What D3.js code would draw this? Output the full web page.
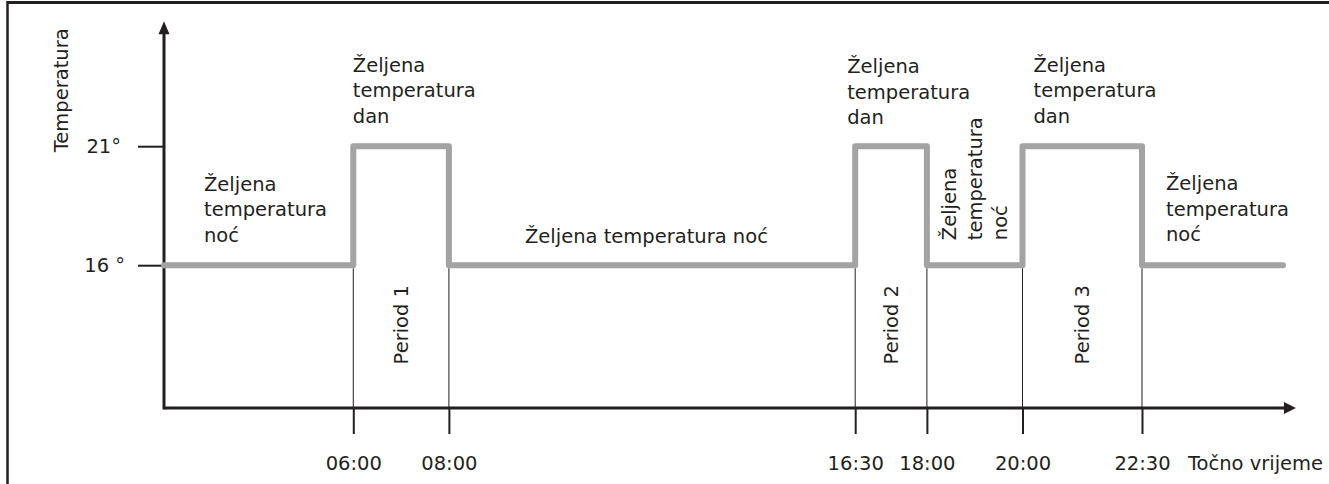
<!DOCTYPE html>
<html><head><meta charset="utf-8">
<script src="https://cdn.jsdelivr.net/npm/d3@7"></script>
<style>
body{margin:0;background:#fff}
svg text{font-family:"DejaVu Sans";fill:#231f20;font-size:19.5px}
</style>
</head><body>
<svg id="c" width="1329" height="484"></svg>
<script>
// ---- data ----
const timeTicks = [6, 8, 16.5, 18, 20, 22.5];
const timeTickLabels = ["06:00", "08:00", "16:30", "18:00", "20:00", "22:30"];
const tempTicks = [16, 21];
const tempTickLabels = ["16 °", "21°"];
const profileTimes = [2.04, 6, 6, 8, 8, 16.5, 16.5, 18, 18, 20, 20, 22.5, 22.5, 25.45];
const profileTemps = [16, 16, 21, 21, 16, 16, 21, 21, 16, 16, 21, 21, 16, 16];
const periodNames = ["Period 1", "Period 2", "Period 3"];
const periodStarts = [6, 16.5, 20];
const periodEnds = [8, 18, 22.5];
const dayLabel = ["Željena", "temperatura", "dan"];
const nightLabel = ["Željena", "temperatura", "noć"];
const nightLabelLong = "Željena temperatura noć";
const yTitle = "Temperatura";
const xTitle = "Točno vrijeme";

// ---- drawing ----
const svg = d3.select("#c");
const ink = "#231f20";
const x = d3.scaleLinear().domain([2.04, 26]).range([164, 1309.3]);
const y = d3.scaleLinear().domain([10, 26]).range([408, 27.2]);
const tStart = x.domain()[0];

// frame
svg.append("line").attr("x1", 7.5).attr("x2", 1329).attr("y1", 2.5).attr("y2", 2.5)
  .attr("stroke", ink).attr("stroke-width", 3);
svg.append("line").attr("x1", 7.5).attr("x2", 7.5).attr("y1", 1).attr("y2", 484)
  .attr("stroke", ink).attr("stroke-width", 2.5);

// thin period boundaries
svg.append("g").selectAll("line").data(timeTicks).join("line")
  .attr("x1", d => x(d)).attr("x2", d => x(d))
  .attr("y1", y(16) + 3).attr("y2", y(10))
  .attr("stroke", ink).attr("stroke-width", 1);

// x axis ticks + labels
const xAxis = d3.axisBottom(x).tickValues(timeTicks)
  .tickFormat((d, i) => timeTickLabels[i]).tickSize(26).tickPadding(22);
const gx = svg.append("g").attr("transform", `translate(0,${y(10)})`).call(xAxis);
gx.select(".domain").remove();
gx.selectAll(".tick line").attr("stroke", ink).attr("stroke-width", 2);
gx.selectAll(".tick text").attr("font-size", null).attr("font-family", null).attr("fill", ink);

// y axis ticks + labels
const yAxis = d3.axisLeft(y).tickValues(tempTicks)
  .tickFormat((d, i) => tempTickLabels[i]).tickSize(26).tickPadding(13);
const gy = svg.append("g").attr("transform", `translate(${x(tStart)},0)`).call(yAxis);
gy.select(".domain").remove();
gy.selectAll(".tick line").attr("stroke", ink).attr("stroke-width", 2);
gy.selectAll(".tick text").attr("font-size", null).attr("font-family", null).attr("fill", ink)
  .attr("dx", (d, i) => i === 1 ? -4 : 0);

// axis lines with arrows
const x0 = x(tStart), y0 = y(10);
const xTip = x(25.72), yTip = y(26.25);
svg.append("line").attr("x1", x0).attr("x2", xTip - 10).attr("y1", y0).attr("y2", y0)
  .attr("stroke", ink).attr("stroke-width", 3);
svg.append("line").attr("x1", x0).attr("x2", x0).attr("y1", y0 + 1.5).attr("y2", yTip + 10)
  .attr("stroke", ink).attr("stroke-width", 3);
svg.append("path").attr("d", `M${xTip},${y0} L${xTip - 12},${y0 - 6} L${xTip - 12},${y0 + 6} Z`).attr("fill", ink);
svg.append("path").attr("d", `M${x0},${yTip} L${x0 - 5.5},${yTip + 13} L${x0 + 5.5},${yTip + 13} Z`).attr("fill", ink);

// temperature profile
const line = d3.line().x((d, i) => x(profileTimes[i])).y(d => y(d));
svg.append("path").datum(profileTemps).attr("d", line)
  .attr("fill", "none").attr("stroke", "#a3a3a4").attr("stroke-width", 6)
  .attr("stroke-linejoin", "round").attr("stroke-linecap", "round");

// period labels (rotated)
periodNames.forEach((name, i) => {
  const cx = (x(periodStarts[i]) + x(periodEnds[i])) / 2;
  svg.append("text").attr("transform", `translate(${cx + 7},${y(13.5)}) rotate(-90)`)
    .attr("text-anchor", "middle").text(name);
});

// axis titles
svg.append("text").attr("transform", `translate(68,${y(23.35)}) rotate(-90)`)
  .attr("text-anchor", "middle").text(yTitle);
svg.append("text").attr("x", x(22.5) + 46).attr("y", y(10) + 62).text(xTitle);

// multi-line annotation helper
const lh = 25.5;
function block(lines, px, py) {
  const t = svg.append("text");
  lines.forEach((s, i) => t.append("tspan").attr("x", px).attr("y", py + i * lh).text(s));
}
block(nightLabel, x0 + 40, y(16) - 74.5);
block(dayLabel, x(6) - 0.5, y(21) - 74.5);
block(dayLabel, x(16.5) - 8, y(21) - 73);
block(dayLabel, x(20) + 11, y(21) - 74.5);
block(nightLabel, x(22.5) + 24, y(16) - 75);
svg.append("text").attr("x", 525).attr("y", y(16) - 22).text(nightLabelLong);

// rotated block between 18:00 and 20:00
const mid = (x(18) + x(20)) / 2;
nightLabel.forEach((s, i) => {
  svg.append("text").attr("transform", `translate(${mid + 7 + (i - 1) * lh},${y(16) - 25}) rotate(-90)`)
    .attr("text-anchor", "start").text(s);
});
</script>
</body></html>
